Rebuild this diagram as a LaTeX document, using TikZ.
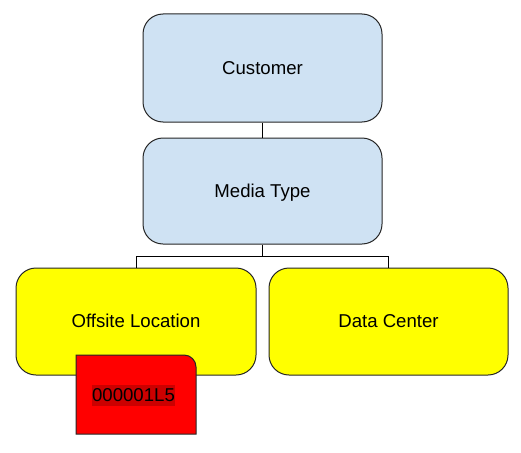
\documentclass[tikz,border=0pt]{standalone}
\usepackage{fontspec}
\setmainfont{Liberation Sans}
\definecolor{boxblue}{HTML}{CFE2F3}
\definecolor{boxyellow}{HTML}{FFFF00}
\definecolor{boxred}{HTML}{FF0000}
\definecolor{hilite}{HTML}{CC0000}
\definecolor{edge}{HTML}{262626}
\begin{document}
\begin{tikzpicture}[x=1pt,y=1pt,
  card/.style={draw=edge,line width=1pt,rounded corners=20pt,minimum width=239pt,inner sep=0pt,font=\fontsize{18.6}{21}\selectfont,text height=13.3pt,text depth=0pt},
  bluecard/.style={card,fill=boxblue},
  yellowcard/.style={card,fill=boxyellow,minimum height=107pt,text depth=2pt},
  link/.style={draw=black,line width=0.9pt}]
\useasboundingbox (0,0) rectangle (521,-452);
\node[bluecard,minimum height=108pt] (cust) at (262.5,-68) {Customer};
\node[bluecard,minimum height=106pt] (media) at (262.5,-191) {Media Type};
\node[yellowcard,minimum width=240pt] (off) at (136,-321.5) {Offsite Location};
\node[yellowcard] (dc) at (388.5,-321.5) {Data Center};
\coordinate (j) at (262.5,-256);
\draw[link] (cust.south) -- (media.north);
\draw[link] (media.south) -- (j);
\draw[link] (j) -| (off.north);
\draw[link] (j) -| (dc.north);
\draw[draw=edge,line width=1pt,fill=boxred] (76,-434) -- (76,-355) -- (184,-355) arc (90:0:12) -- (196,-434) -- cycle;
\node[fill=hilite,inner xsep=0.3pt,inner ysep=0pt,text height=16pt,text depth=5pt,anchor=base,font=\fontsize{18.6}{21}\selectfont] (tag) at (133.5,-401) {000001L5};
\end{tikzpicture}
\end{document}
